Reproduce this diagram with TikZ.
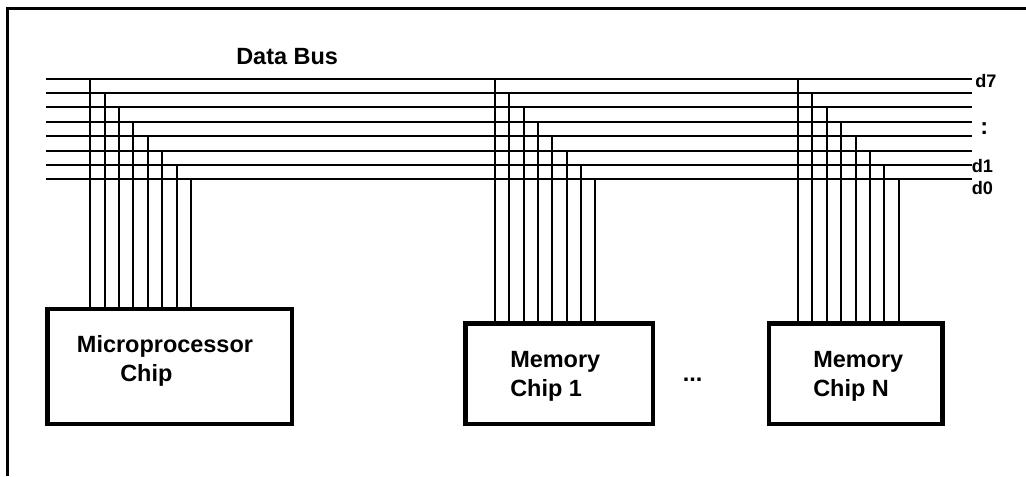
\documentclass[tikz,border=0pt]{standalone}
\usepackage{fontspec}
\setmainfont{Liberation Sans}
\tikzset{
  x=0.75pt,y=-0.75pt,
  frameline/.style={line width=2.25pt,draw=black,line cap=butt},
  busline/.style={line width=1.5pt,draw=black},
  tapline/.style={line width=1.5pt,draw=black},
  chipbox/.style={line width=3.4pt,draw=black,fill=white,inner sep=0pt,outer sep=0pt,anchor=center},
  lbl/.style={font=\bfseries\fontsize{17.6}{17.6}\selectfont,inner sep=0pt,anchor=base west,text=black},
  smalllbl/.style={font=\bfseries\fontsize{13.6}{13.6}\selectfont,inner sep=0pt,anchor=base west,text=black},
}
\begin{document}
\begin{tikzpicture}
\useasboundingbox (0,0) rectangle (1026,476);
% open frame: left and top edges only
\coordinate (fBL) at (7,476);
\coordinate (fTL) at (7,8);
\coordinate (fTR) at (1026,8);
\draw[frameline] (fBL) -- (fTL) -- (fTR);
% bus lines
\foreach \i/\y in {7/79,6/93,5/107,4/122,3/136,2/151,1/165,0/179}{
  \coordinate (busL\i) at (46,\y);
  \coordinate (busR\i) at (972.3,\y);
  \draw[busline] (busL\i) -- (busR\i);
}
% chips
\node[chipbox,minimum width=244.7*0.75pt,minimum height=115*0.75pt] (cpu) at (169.65,366.5) {};
\node[chipbox,minimum width=187.5*0.75pt,minimum height=100.5*0.75pt] (mem1) at (559.25,373.75) {};
\node[chipbox,minimum width=173.5*0.75pt,minimum height=100.5*0.75pt] (memN) at (855.75,373.75) {};
% taps
\foreach \i/\x in {7/90,6/105,5/119,4/133,3/148,2/162,1/177,0/191}{
  \coordinate (ct\i) at (\x,0);
  \draw[tapline] (ct\i |- busL\i) -- (ct\i |- cpu.north);
}
\foreach \i/\x in {7/495,6/509,5/524,4/538,3/552,2/567,1/581,0/595}{
  \coordinate (mt\i) at (\x,0);
  \draw[tapline] (mt\i |- busL\i) -- (mt\i |- mem1.north);
}
\foreach \i/\x in {7/798,6/812,5/827,4/841,3/856,2/870,1/884,0/899}{
  \coordinate (nt\i) at (\x,0);
  \draw[tapline] (nt\i |- busL\i) -- (nt\i |- memN.north);
}
% labels
\node[lbl] (title) at (236,64) {Data Bus};
\node[lbl] (cpuA) at (76.7,352.7) {Microprocessor};
\node[lbl] (cpuB) at (120,381.3) {Chip};
\node[lbl] (memA) at (510,367.3) {Memory};
\node[lbl] (memB) at (510,396) {Chip 1};
\node[lbl] (dots) at (682.5,381.7) {...};
\node[lbl] (nA) at (813,367.3) {Memory};
\node[lbl] (nB) at (813,396) {Chip N};
\node[smalllbl] (d7) at (975,87.3) {d7};
\node[lbl] (colon) at (980,134.7) {:};
\node[smalllbl] (d1) at (971.5,172) {d1};
\node[smalllbl] (d0) at (971.5,194) {d0};
\end{tikzpicture}
\end{document}
